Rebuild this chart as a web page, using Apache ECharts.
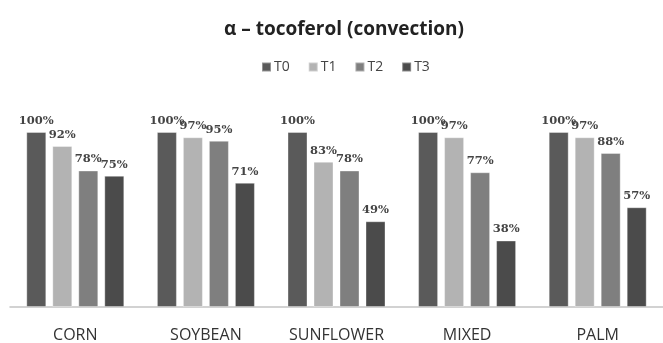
<!DOCTYPE html>
<html>
<head>
<meta charset="utf-8">
<script src="https://cdn.jsdelivr.net/npm/echarts@6/dist/echarts.min.js"></script>
<style>
  html, body { margin: 0; padding: 0; background: #fff; }
  #chart { width: 663px; height: 343px; }
</style>
</head>
<body>
<div id="chart"></div>
<script>
// categories and values (percent)
const oils = ['CORN', 'SOYBEAN', 'SUNFLOWER', 'MIXED', 'PALM'];
const seriesNames = ['T0', 'T1', 'T2', 'T3'];
const t0 = [100, 100, 100, 100, 100];
const t1 = [92, 97, 83, 97, 97];
const t2 = [78, 95, 78, 77, 88];
const t3 = [75, 71, 49, 38, 57];
const barColors = ['#5a5a5a', '#b3b3b3', '#7f7f7f', '#4b4b4b'];

const chart = echarts.init(document.getElementById('chart'));

// one bar series for each time point
const makeSeries = (name, data, i) => ({
  name: name,
  type: 'bar',
  data: data,
  barWidth: 20,
  barGap: '30%',
  itemStyle: {
    color: barColors[i],
    borderColor: 'rgba(255,255,255,0.35)',
    borderWidth: 1
  },
  label: {
    show: true,
    position: 'top',
    distance: 5,
    formatter: '{c}%',
    fontFamily: 'DejaVu Serif',
    fontSize: 11.5,
    fontWeight: 'bold',
    color: '#444'
  }
});

chart.setOption({
  animation: false,
  title: {
    text: 'α – tocoferol (convection)',
    left: 339,
    textAlign: 'center',
    top: 15,
    textStyle: {
      fontFamily: 'Open Sans',
      fontSize: 19,
      fontWeight: 'bold',
      color: '#222'
    }
  },
  legend: {
    data: seriesNames,
    left: 345,
    top: 55,
    itemWidth: 9,
    itemHeight: 9,
    itemGap: 18,
    icon: 'rect',
    textStyle: { fontFamily: 'Open Sans', fontSize: 14, color: '#444', padding: [0, 0, 0, -2] }
  },
  grid: { left: 10, width: 659, top: 132, bottom: 34, containLabel: false },
  xAxis: {
    type: 'category',
    data: oils,
    axisLine: { lineStyle: { color: '#c4c4c4', width: 1.5 } },
    axisTick: { show: false },
    axisLabel: {
      margin: 20,
      fontFamily: 'Open Sans',
      fontSize: 16,
      color: '#333'
    }
  },
  yAxis: {
    type: 'value',
    min: 0,
    max: 100,
    show: false
  },
  series: [
    makeSeries(seriesNames[0], t0, 0),
    makeSeries(seriesNames[1], t1, 1),
    makeSeries(seriesNames[2], t2, 2),
    makeSeries(seriesNames[3], t3, 3)
  ]
});

// legend left was given as its center; shift it once the width is known
const lg = chart.getModel().getComponent('legend');
const view = chart.getViewOfComponentModel ? chart.getViewOfComponentModel(lg) : null;
if (view && view.group) {
  const w = view.group.getBoundingRect().width;
  chart.setOption({ legend: { left: Math.round(345 - w / 2) } });
}
</script>
</body>
</html>
